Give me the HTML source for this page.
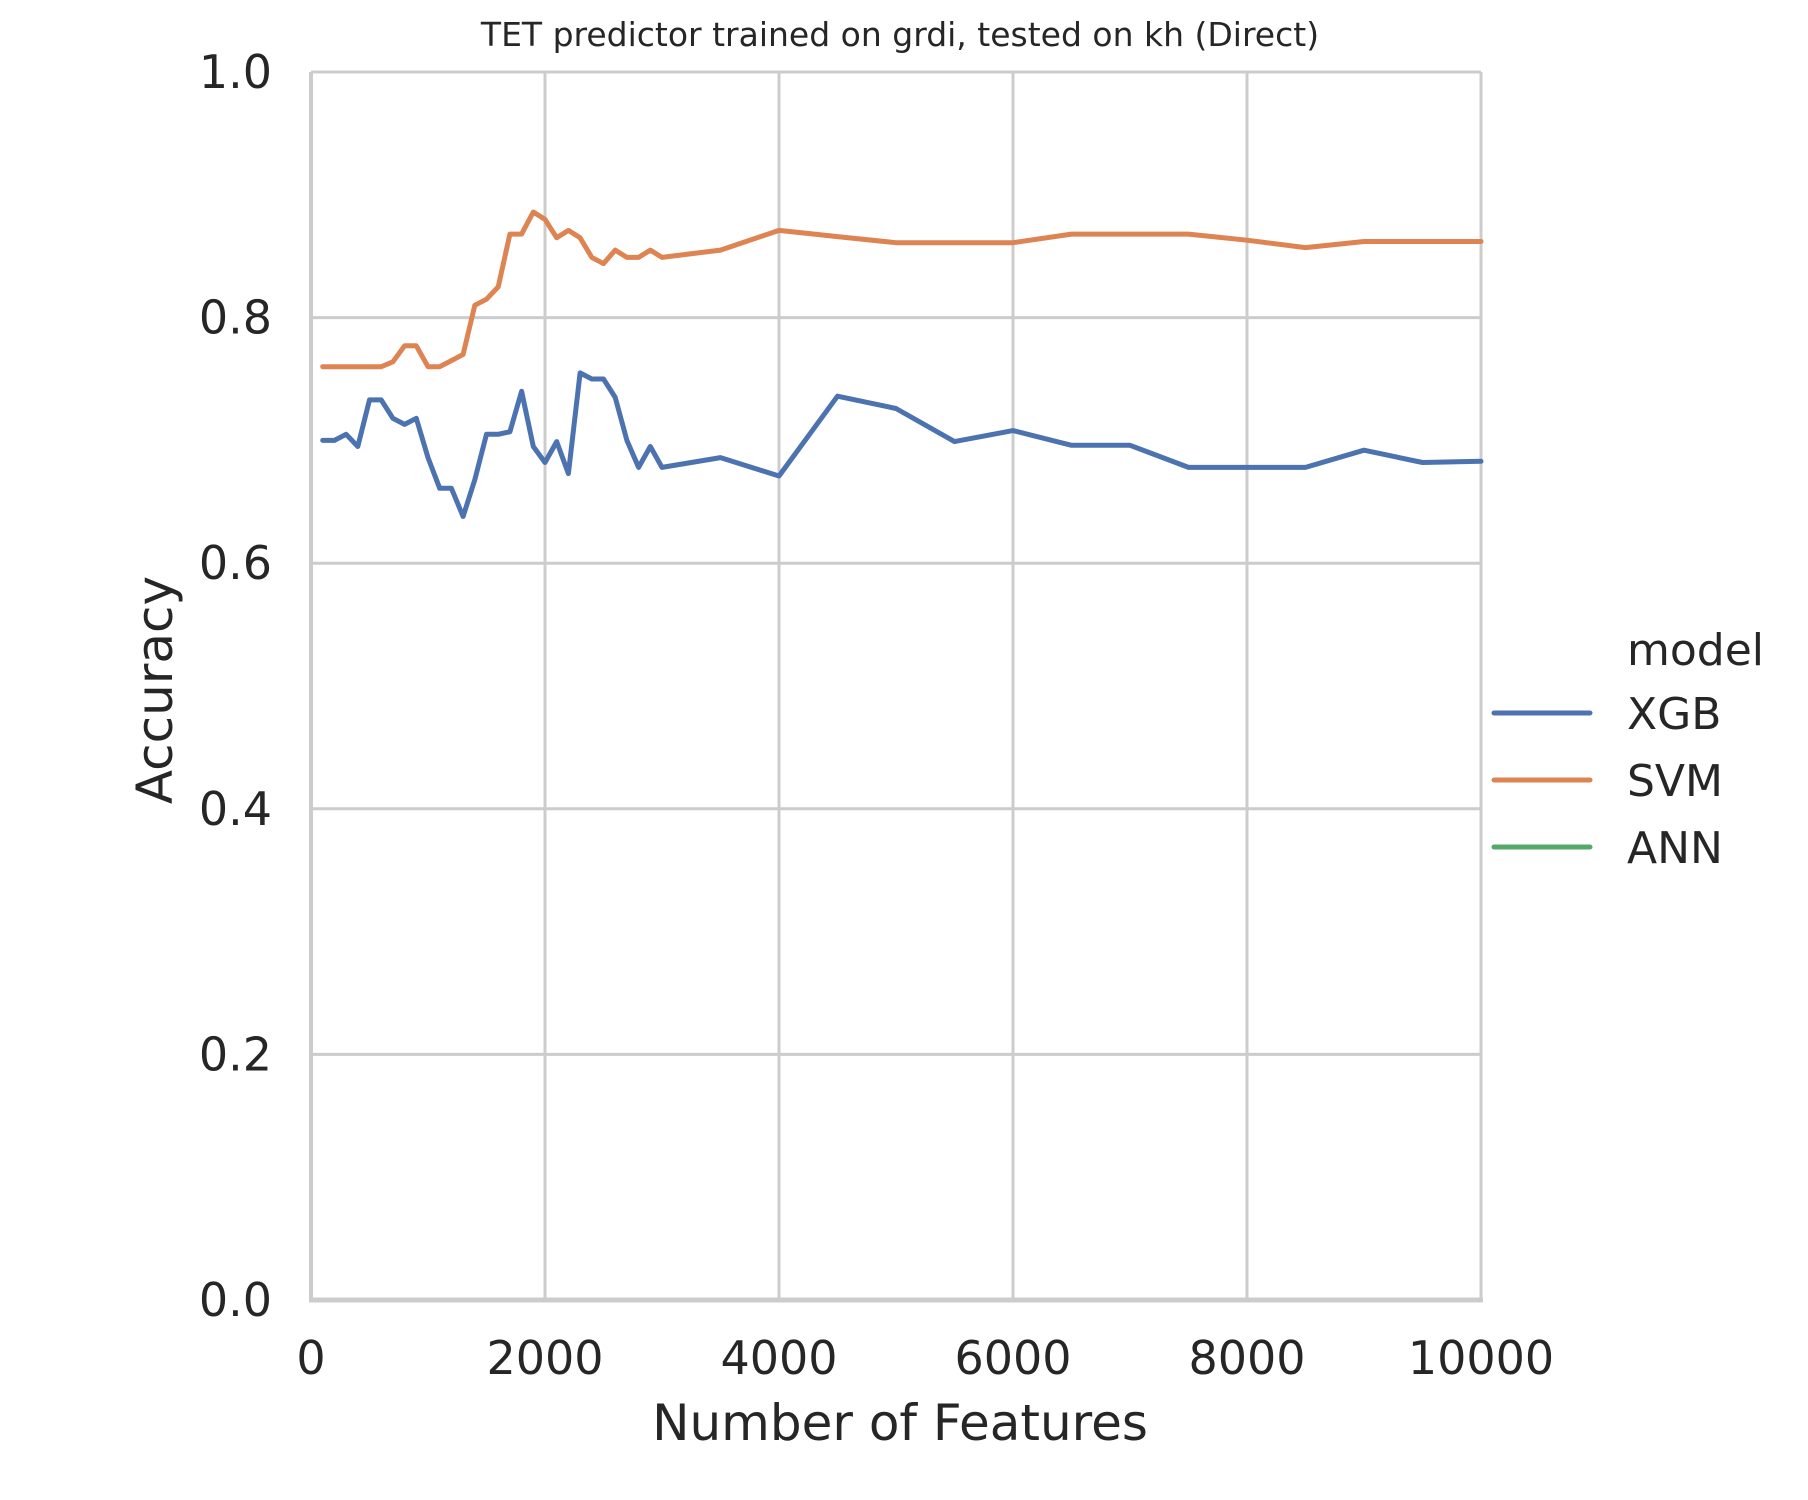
<!DOCTYPE html>
<html><head><meta charset="utf-8"><style>
html,body{margin:0;padding:0;background:#fff;}
svg{display:block;font-family:"DejaVu Sans","Liberation Sans",sans-serif;}
</style></head><body>
<svg id="chart" width="1808" height="1500" viewBox="0 0 1808 1500" xmlns="http://www.w3.org/2000/svg">
<text x="900" y="46" font-size="33" text-anchor="middle" fill="#262626">TET predictor trained on grdi, tested on kh (Direct)</text>
<g id="grid"></g>
<g id="ticks"></g>
<g id="series"></g>
<text x="900" y="1440" font-size="50" text-anchor="middle" fill="#262626">Number of Features</text>
<text x="0" y="0" font-size="50" text-anchor="middle" fill="#262626" transform="translate(172,690) rotate(-90)">Accuracy</text>
<g>
<text x="1627" y="665" font-size="44" fill="#262626">model</text>
<g><line x1="1494" y1="713" x2="1590" y2="713" stroke="#4c72b0" stroke-width="5" stroke-linecap="round"/><text x="1627" y="729" font-size="44" fill="#262626">XGB</text></g>
<g><line x1="1494" y1="780" x2="1590" y2="780" stroke="#dd8452" stroke-width="5" stroke-linecap="round"/><text x="1627" y="796" font-size="44" fill="#262626">SVM</text></g>
<g><line x1="1494" y1="847" x2="1590" y2="847" stroke="#55a868" stroke-width="5" stroke-linecap="round"/><text x="1627" y="863" font-size="44" fill="#262626">ANN</text></g>
</g>
</svg>
<script>
const features = [100,200,300,400,500,600,700,800,900,1000,1100,1200,1300,1400,1500,1600,1700,1800,1900,2000,2100,2200,2300,2400,2500,2600,2700,2800,2900,3000,3500,4000,4500,5000,5500,6000,6500,7000,7500,8000,8500,9000,9500,10000];
const xgbAcc = [0.70,0.70,0.705,0.695,0.733,0.733,0.718,0.713,0.718,0.686,0.661,0.661,0.638,0.668,0.705,0.705,0.707,0.74,0.695,0.682,0.699,0.673,0.755,0.75,0.75,0.735,0.70,0.678,0.695,0.678,0.686,0.671,0.736,0.726,0.699,0.708,0.696,0.696,0.678,0.678,0.678,0.692,0.682,0.683];
const svmAcc = [0.76,0.76,0.76,0.76,0.76,0.76,0.764,0.777,0.777,0.76,0.76,0.765,0.77,0.81,0.815,0.825,0.868,0.868,0.886,0.88,0.865,0.871,0.865,0.849,0.844,0.855,0.849,0.849,0.855,0.849,0.855,0.871,0.866,0.861,0.861,0.861,0.868,0.868,0.868,0.863,0.857,0.862,0.862,0.862];
const xTicks = [0,2000,4000,6000,8000,10000];
const yTicks = [0.0,0.2,0.4,0.6,0.8,1.0];

const NS = "http://www.w3.org/2000/svg";
const X0 = 311, X1 = 1481, Y0 = 1300, Y1 = 72;
function xScale(v){ return X0 + (v - 0) / 10000 * (X1 - X0); }
function yScale(v){ return Y0 - v * (Y0 - Y1); }
function mk(tag, attrs, parent){ const e = document.createElementNS(NS, tag); for (const k in attrs) e.setAttribute(k, attrs[k]); parent.appendChild(e); return e; }

const grid = document.getElementById('grid');
const ticks = document.getElementById('ticks');
xTicks.forEach(t => {
  const l = mk('line', {x1: xScale(t), x2: xScale(t), y1: Y1, y2: Y0, stroke: '#cccccc', 'stroke-width': 3}, grid);
  
  
  const tx = mk('text', {x: xScale(t), y: 1374, 'font-size': 46, 'text-anchor': 'middle', fill: '#262626'}, ticks);
  tx.textContent = String(t);
  
  
});
yTicks.forEach(t => {
  const l = mk('line', {x1: X0, x2: X1, y1: yScale(t), y2: yScale(t), stroke: '#cccccc', 'stroke-width': 3}, grid);
  
  
  const tx = mk('text', {x: 272, y: yScale(t) + 16, 'font-size': 46, 'text-anchor': 'end', fill: '#262626'}, ticks);
  tx.textContent = t.toFixed(1);
  
  
});
const ls = mk('line', {x1: X0, x2: X0, y1: Y1, y2: Y0 + 2, stroke: '#cccccc', 'stroke-width': 4}, grid);


const bs = mk('line', {x1: X0 - 2, x2: X1 + 2, y1: Y0, y2: Y0, stroke: '#cccccc', 'stroke-width': 5}, grid);



const series = document.getElementById('series');
function drawLine(vals, color, name){
  const pts = features.map((f, i) => xScale(f).toFixed(1) + ',' + yScale(vals[i]).toFixed(1)).join(' ');
  const p = mk('polyline', {points: pts, fill: 'none', stroke: color, 'stroke-width': 5, 'stroke-linejoin': 'round', 'stroke-linecap': 'round'}, series);
  
  
}
drawLine(xgbAcc, '#4c72b0', 'xgb-line');
drawLine(svmAcc, '#dd8452', 'svm-line');
</script>
</body></html>
